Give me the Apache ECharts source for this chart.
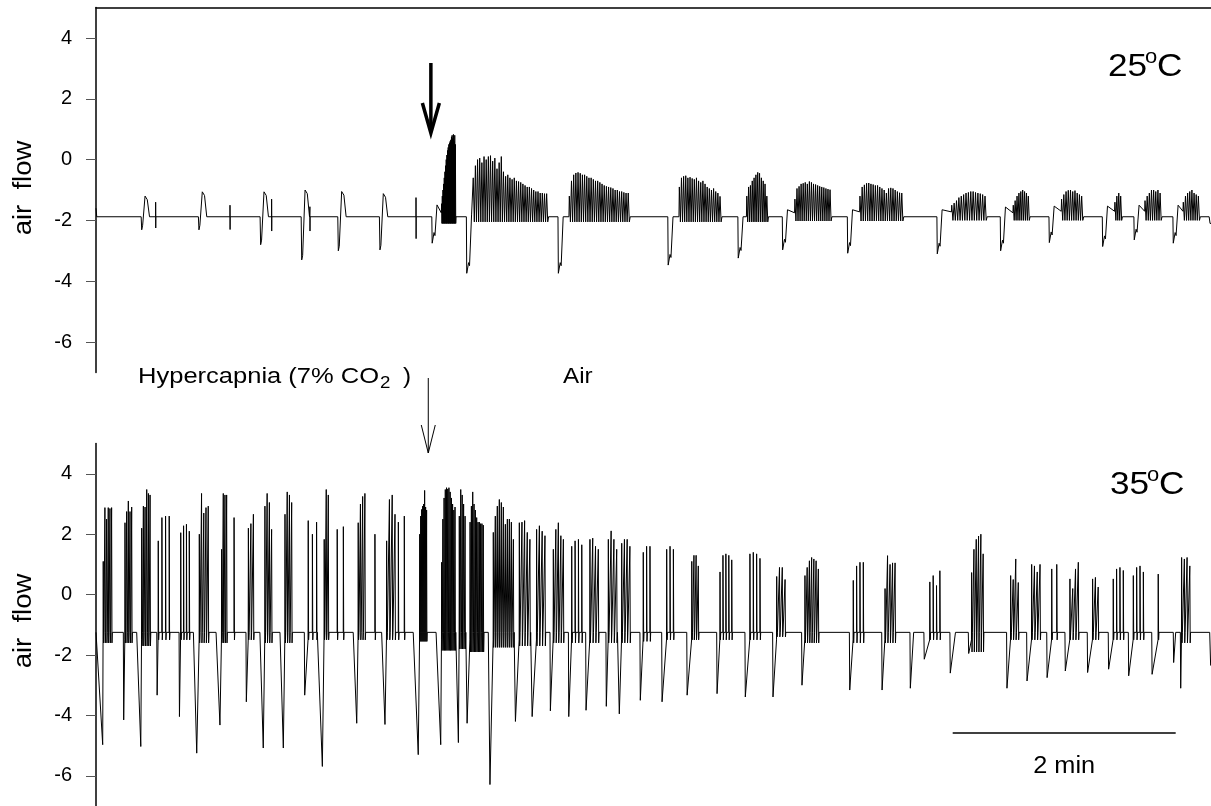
<!DOCTYPE html>
<html><head><meta charset="utf-8">
<script src="https://cdn.jsdelivr.net/npm/echarts@6/dist/echarts.min.js"></script>
<style>html,body{margin:0;padding:0;background:#fff}#c{width:1211px;height:806px}</style>
</head><body><div id="c"></div>
<script>
// ---------------- DATA (time in seconds, 10 min window; air flow units) ----------------
const yTicks = [-6, -4, -2, 0, 2, 4];
const TOP_BASE = -1.88;
// 25 °C, hypercapnia: isolated breaths (dip, then bump above baseline)
const topHyperT    = [24.6, 55.4, 88.6, 110.7, 130.4, 152.8];
const topHyperDip  = [-2.31, -2.31, -2.8, -3.3, -3.0, -2.97];
const topHyperPeak = [-1.2, -1.06, -1.06, -1.0, -1.05, -1.12];
// short vertical artefacts
const topTickT  = [32.1, 72.1, 94.5, 115.1, 172.2];
const topTickHi = [-1.4, -1.5, -1.3, -1.55, -1.25];
const topTickLo = [-2.25, -2.3, -2.35, -2.35, -2.6];
// episodes after the switch (dip, rise, then burst of oscillations)
const topAirT    = [180.9, 199.5, 248.8, 307.9, 345.6, 369.5, 404.5, 452.7, 486.8, 513.0, 541.7, 558.7, 579.7];
const topAirDip  = [-2.75, -3.74, -3.74, -3.47, -3.24, -2.97, -3.08, -3.1, -3.0, -2.73, -2.86, -2.64, -2.75];
const topAirRise = [-1.49, -1.82, -1.88, -1.88, -1.88, -1.65, -1.65, -1.65, -1.56, -1.53, -1.53, -1.5, -1.5];
const topAirPre  = [-1.75, -1.88, -1.88, -1.88, -1.88, -1.75, -1.72, -1.72, -1.75, -1.7, -1.7, -1.7, -1.7];
const topBurstT0 = [186.0, 203.0, 254.7, 313.9, 350.2, 376.1, 411.1, 460.5, 493.6, 519.6, 548.3, 564.5, 585.1];
const topBurstT1 = [193.4, 242.5, 286.4, 335.8, 361.0, 395.0, 433.6, 478.4, 501.7, 530.4, 551.4, 572.6, 593.2];
const topBurstLow = [-2.1, -2.05, -2.05, -2.05, -2.05, -2.02, -2.02, -2.0, -2.0, -2.0, -2.0, -2.0, -2.0];
const topBurstPeaks = [
  [-1.45,-1.2,-1.0,-0.8,-0.6,-0.4,-0.2,0.0,0.15,0.3,0.4,0.5,0.55,0.6,0.65,0.75,0.8,0.7,0.83,0.6,0.8,0.5],
  [-0.6,-0.2,0.0,0.05,-0.1,0.1,0.0,0.1,0.13,-0.05,0.05,-0.3,-0.1,0.1,-0.4,-0.55,-0.5,-0.6,-0.65,-0.6,-0.7,-0.72,-0.75,-0.8,-0.85,-0.9,-0.9,-0.95,-1.0,-1.05,-1.05,-1.1,-1.1,-1.12,-1.12],
  [-1.2,-0.7,-0.5,-0.44,-0.42,-0.45,-0.5,-0.5,-0.55,-0.6,-0.6,-0.65,-0.7,-0.7,-0.75,-0.8,-0.85,-0.88,-0.9,-0.92,-0.95,-1.0,-1.0,-1.05,-1.05,-1.08,-1.1,-1.1],
  [-0.9,-0.6,-0.55,-0.53,-0.6,-0.58,-0.62,-0.65,-0.6,-0.7,-0.75,-0.7,-0.8,-0.9,-0.95,-1.0,-0.95,-1.05,-1.1,-1.21],
  [-1.2,-0.9,-0.85,-0.7,-0.6,-0.5,-0.42,-0.45,-0.6,-0.7,-0.8,-1.2],
  [-1.3,-0.95,-0.88,-0.8,-0.78,-0.75,-0.8,-0.72,-0.75,-0.8,-0.82,-0.85,-0.88,-0.9,-0.92,-0.95,-0.97,-0.99],
  [-1.2,-0.9,-0.83,-0.78,-0.77,-0.8,-0.82,-0.85,-0.85,-0.9,-0.95,-1.0,-1.1,-0.95,-0.93,-0.95,-1.0,-1.05,-1.09,-1.1],
  [-1.5,-1.43,-1.35,-1.25,-1.2,-1.15,-1.1,-1.08,-1.05,-1.05,-1.08,-1.1,-1.12,-1.15,-1.2],
  [-1.5,-1.35,-1.2,-1.1,-1.05,-1.0,-1.05,-1.1,-1.2],
  [-1.3,-1.15,-1.05,-1.01,-1.0,-1.05,-1.02,-1.1,-1.15,-1.2],
  [-1.4,-1.2,-1.1,-1.2],
  [-1.35,-1.2,-1.1,-1.0,-1.0,-1.05,-1.0,-1.1],
  [-1.4,-1.2,-1.1,-1.05,-1.0,-1.1,-1.15,-1.2]
];
const topEndT = 599.5, topEndDip = -2.1;

// 35 °C trace
const BOT_BASE = -1.25;
const botDipT = [0.4,14.7,21.9,32.7,44.7,52.4,64.6,80.7,88.2,99.0,112.1,119.6,138.4,153.7,170.7,183.0,194.1,199.5,211.1,225.5,234.5,244.3,254.2,263.5,274.4,281.4,292.7,304.4,317.9,334.0,349.2,364.1,379.7,405.4,422.8,438.0,445.5,459.5,469.4,490.0,500.8,511.6,521.4,533.4,544.7,555.5,568.1,579.7,583.5,599.3];
const botBotT = [3.6,14.9,24.1,32.9,44.9,54.2,66.7,80.9,90.0,100.8,112.3,121.8,140.3,155.5,173.4,185.5,195.0,199.7,212.0,225.7,234.7,244.5,254.4,263.7,274.6,281.6,292.9,304.6,318.1,334.2,349.4,364.3,379.9,405.6,423.0,438.2,445.7,459.7,469.6,490.2,501.0,511.8,521.6,533.6,544.9,555.7,568.3,579.9,583.7,599.8];
const botDipV = [-4.97,-4.15,-5.03,-3.33,-4.04,-5.25,-4.32,-3.55,-5.08,-5.08,-3.33,-5.69,-4.26,-4.3,-5.3,-4.97,-4.9,-4.26,-6.29,-4.2,-4.04,-3.85,-4.04,-3.83,-3.7,-3.95,-3.5,-3.55,-3.33,-3.28,-3.39,-3.39,-3.0,-3.16,-3.16,-3.1,-2.14,-2.6,-1.95,-3.1,-2.86,-2.75,-2.53,-2.58,-2.47,-2.69,-2.64,-2.25,-3.1,-2.35];
const botSpikeT0 = [3.9,15.6,24.6,33.5,45.6,55.6,67.6,82.0,90.9,101.7,114.2,122.8,141.1,156.4,174.2,186.0,195.5,201.3,213.8,227.8,237.1,246.1,256.0,265.8,275.7,282.9,294.5,307.1,320.6,335.8,351.9,366.3,381.5,407.5,424.6,440.0,448.7,462.5,471.2,492.2,503.5,514.3,524.1,536.3,547.4,558.2,571.6,581.0,584.2,600];
const botSpikeT1 = [8.4,19.2,29.1,39.4,50.2,60.4,70.3,84.7,94.5,105.3,118.7,125.0,144.7,160.9,177.9,193.2,198.6,208.4,224.6,233.5,241.6,251.5,261.4,270.3,280.2,287.3,298.1,310.7,324.1,342.1,357.3,370.8,388.7,412.9,430.0,440.0,454.1,462.5,477.4,496.3,508.0,517.0,528.6,539.3,552.8,563.6,572.5,581.0,588.6,600];
const botSpikeLow = [-1.6,-1.6,-1.7,-1.5,-1.5,-1.6,-1.6,-1.5,-1.6,-1.6,-1.5,-1.5,-1.5,-1.5,-1.55,-1.85,-1.8,-1.9,-1.75,-1.7,-1.7,-1.6,-1.6,-1.6,-1.6,-1.6,-1.55,-1.5,-1.5,-1.5,-1.5,-1.4,-1.6,-1.6,-1.6,-1.5,-1.5,-1.5,-1.9,-1.5,-1.5,-1.5,-1.5,-1.5,-1.5,-1.5,-1.5,-1.5,-1.6,-1.5];
const botPeaks = [
  [1.1,2.88,2.5,2.88,2.85,2.88],[2.38,2.75,3.1,2.75,2.9],[2.2,2.93,2.9,3.48,3.35,3.3],[1.78,2.55,2.6,2.6],
  [2.05,2.28,2.33,2.1],[2.0,3.35,2.7,2.88,2.93],[1.5,3.35,3.3,3.3],[2.2,2.35,2.66],[2.93,3.35,3.05,2.16],
  [2.66,3.4,3.3,3.05],[2.45,2.0,2.4],[1.83,3.48,3.3],[2.38,3.0,3.25,3.35],[1.78,3.15,3.3,2.66],
  [2.0,2.6,2.82,2.93,3.0,3.45,2.9,2.8],[1.07,2.5,3.2,3.48,3.54,3.5,3.54,3.4,3.2,3.0,2.8,2.9],
  [2.6,3.48,3.3,3.0,2.6],[2.4,2.93,3.4,3.0,2.8,2.55,2.4,2.4,2.35,2.35,2.3],
  [2.06,2.6,2.93,3.15,3.05,2.9,2.33,2.5,2.5,2.4,1.83],[2.38,2.4,2.45,2.06,1.83],[2.16,2.28,2.1,1.95],
  [1.5,2.16,2.38,1.95,1.83],[1.6,1.78,1.83,1.65],[1.83,1.87,1.6,1.5],[1.83,2.11,1.83,1.5],[1.7,1.83,1.83,1.6],
  [1.4,1.6,1.6],[1.5,1.6,1.5],[1.1,1.3,1.3,0.95],[0.75,1.3,1.35,1.3,1.15],[1.35,1.4,1.35,1.2],[0.6,0.9,0.9,0.5],
  [0.63,0.9,1.12,1.23,1.18,1.12,0.85],[0.47,0.95,1.07,1.07],[0.2,1.29,1.0,1.05,1.05],[],[0.42,0.63,0.3,0.79],[],
  [0.73,1.5,1.83,1.94,2.0,1.35],[0.63,0.5,1.18,0.4],[1.0,0.95,0.75,1.0],[0.85,1.0],[0.52,0.2,0.85,1.07],
  [0.52,0.57,0.25],[0.52,0.85,0.9,0.8],[0.63,0.9,0.95,0.75],[0.68],[],[1.23,1.18,1.23,0.95],[]
];
const botLoneT = [74.3, 129.8, 133.1, 150.1, 162.7, 165.9];
const botLoneV = [2.55, 2.16, 2.25, 2.0, 2.4, 2.6];

// annotations
const switchTimeTop = 180.2;   // arrow, 25 °C
const switchTimeBot = 178.8;   // arrow, 35 °C
const scaleBarStart = 461;     // s
const scaleBarMinutes = 2;

// ---------------- build traces ----------------
function buildTop() {
  const segs = [{t: 0, pts: [[0, -1.6], [0.4, TOP_BASE]]}];
  topHyperT.forEach((t, i) => {
    const d = topHyperDip[i], p = topHyperPeak[i];
    segs.push({t: t - 0.3, pts: [[t - 0.3, TOP_BASE], [t, d], [t + 0.5, d + 0.15], [t + 1.8, p], [t + 3.0, p - 0.12], [t + 4.2, TOP_BASE]]});
  });
  topTickT.forEach((t, i) => segs.push({t, pts: [[t, TOP_BASE], [t, topTickHi[i]], [t + 0.05, topTickLo[i]], [t + 0.1, TOP_BASE]]}));
  topAirT.forEach((t, i) => {
    const d = topAirDip[i];
    const pts = [[t - 0.2, TOP_BASE], [t, d], [t + 1.0, d + 0.35], [t + 1.5, d + 0.25], [t + 2.6, topAirRise[i]], [topBurstT0[i] - 0.2, topAirPre[i]]];
    const pk = topBurstPeaks[i], n = pk.length, t0 = topBurstT0[i], t1 = topBurstT1[i];
    const dt = (t1 - t0) / (n - 1), lo = topBurstLow[i];
    pk.forEach((v, k) => { const tk = t0 + k * dt; pts.push([tk, v], [tk + dt * 0.5, lo]); });
    pts.push([t1 + dt * 0.9, TOP_BASE]);
    segs.push({t: t - 0.2, pts});
  });
  segs.push({t: topEndT - 0.5, pts: [[topEndT - 0.5, TOP_BASE], [topEndT, topEndDip], [600, topEndDip]]});
  segs.sort((a, b) => a.t - b.t);
  return segs.flatMap(s => s.pts);
}
function buildBot() {
  const segs = [{t: 0, pts: [[0, BOT_BASE]]}];
  botDipT.forEach((t, i) => {
    const pts = [[t, BOT_BASE], [botBotT[i], botDipV[i]]];
    const pk = botPeaks[i], t0 = botSpikeT0[i], t1 = botSpikeT1[i], lo = botSpikeLow[i];
    if (!pk.length) { pts.push([Math.min(t0, 600), i === botDipT.length - 1 ? botDipV[i] : BOT_BASE]); }
    else {
      pts.push([t0 - 0.1, BOT_BASE - 0.25]);
      const n = pk.length, dt = n > 1 ? (t1 - t0) / (n - 1) : 1;
      pk.forEach((v, k) => {
        const tk = t0 + k * dt;
        if (k > 0 && dt > 0.5) pts.push([tk - 0.05, BOT_BASE]);
        pts.push([tk, v], [tk + Math.min(0.2, dt * 0.3), lo], [tk + Math.min(0.4, dt * 0.6), BOT_BASE]);
      });
    }
    segs.push({t, pts});
  });
  botLoneT.forEach((t, i) => segs.push({t: t - 0.05, pts: [[t - 0.05, BOT_BASE], [t, botLoneV[i]], [t + 0.2, -1.5], [t + 0.4, BOT_BASE]]}));
  segs.sort((a, b) => a.t - b.t);
  return segs.flatMap(s => s.pts);
}

const FONT = '"Liberation Sans", Arial, Helvetica, sans-serif';
const chart = echarts.init(document.getElementById('c'), null, {renderer: 'canvas'});
function yAxisCfg(gi) {
  return {
    type: 'value', gridIndex: gi, min: -7, max: 5,
    axisLine: {show: true, onZero: false, lineStyle: {color: '#000', width: 1.5}},
    axisTick: {show: true, length: 10, lineStyle: {color: '#555', width: 1}, customValues: yTicks},
    axisLabel: {show: true, customValues: yTicks, fontSize: 20, color: '#000', margin: 24, fontFamily: FONT},
    splitLine: {show: false}
  };
}
const lineSeries = (data, idx) => ({
  type: 'line', xAxisIndex: idx, yAxisIndex: idx, data, showSymbol: false, symbol: 'none',
  lineStyle: {color: '#000', width: 1}, animation: false, silent: true, z: 2
});
chart.setOption({
  animation: false,
  backgroundColor: '#fff',
  grid: [
    {left: 96, top: 7.6, width: 1115, height: 364.8},
    {left: 96, top: 443.6, width: 1115, height: 364.8}
  ],
  xAxis: [
    {type: 'value', gridIndex: 0, min: 0, max: 600, position: 'top',
     axisLine: {show: true, onZero: false, lineStyle: {color: '#000', width: 1.5}}, axisTick: {show: false}, axisLabel: {show: false}, splitLine: {show: false}},
    {type: 'value', gridIndex: 1, min: 0, max: 600, show: false, splitLine: {show: false}}
  ],
  yAxis: [yAxisCfg(0), yAxisCfg(1)],
  series: [lineSeries(buildTop(), 0), lineSeries(buildBot(), 1)]
});

const xTop = chart.convertToPixel({xAxisIndex: 0}, switchTimeTop);
const xBot = chart.convertToPixel({xAxisIndex: 1}, switchTimeBot);
const sb0 = chart.convertToPixel({xAxisIndex: 1}, scaleBarStart);
const sb1 = chart.convertToPixel({xAxisIndex: 1}, scaleBarStart + scaleBarMinutes * 60);
const txt = (x, y, text, size, extra, sx) => Object.assign({
  type: 'text', x, y, z: 10, scaleX: sx || 1.1,
  style: {text, fontSize: size, fontFamily: FONT, fill: '#000', align: 'left', verticalAlign: 'middle'}
}, extra || {});
const ctr = (text, size) => ({style: {text, fontSize: size, fontFamily: FONT, fill: '#000', align: 'center', verticalAlign: 'middle'}});
chart.setOption({
  graphic: [
    Object.assign(txt(24, 188, '', 25), {rotation: Math.PI / 2}, ctr('air  flow', 25)),
    Object.assign(txt(24, 621, '', 25), {rotation: Math.PI / 2}, ctr('air  flow', 25)),
    txt(1108, 67, '25', 32), txt(1145, 57, 'o', 20), txt(1157, 67, 'C', 32),
    txt(1110, 485, '35', 32), txt(1147, 475, 'o', 20), txt(1159, 485, 'C', 32),
    txt(138, 377, 'Hypercapnia (7% CO', 22, null, 1.16),
    txt(380, 383, '2', 17, null, 1.1), txt(403, 377, ')', 22, null, 1.1),
    txt(563, 377, 'Air', 22),
    Object.assign(txt((sb0 + sb1) / 2, 767, '', 23), ctr('2 min', 23)),
    {type: 'line', z: 10, shape: {x1: sb0, y1: 733, x2: sb1, y2: 733}, style: {stroke: '#000', lineWidth: 1.5}},
    {type: 'line', z: 10, shape: {x1: xTop, y1: 63, x2: xTop, y2: 130}, style: {stroke: '#000', lineWidth: 3.5}},
    {type: 'polyline', z: 10, shape: {points: [[xTop - 8.5, 103], [xTop, 133], [xTop + 8.5, 103]]}, style: {stroke: '#000', lineWidth: 3.5, fill: null, lineJoin: 'miter'}},
    {type: 'line', z: 10, shape: {x1: xBot, y1: 378, x2: xBot, y2: 453}, style: {stroke: '#000', lineWidth: 1}},
    {type: 'polyline', z: 10, shape: {points: [[xBot - 7, 425], [xBot, 453], [xBot + 7, 425]]}, style: {stroke: '#000', lineWidth: 1, fill: null}}
  ]
});
</script></body></html>
